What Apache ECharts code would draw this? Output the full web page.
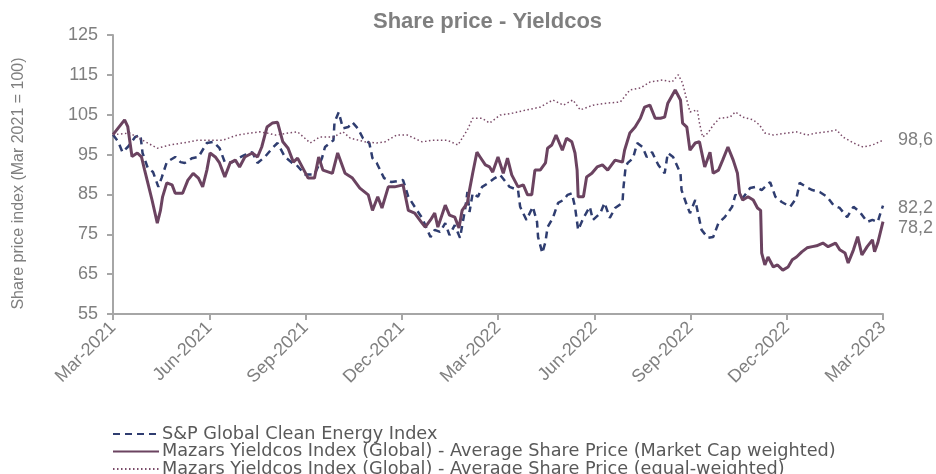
<!DOCTYPE html>
<html>
<head>
<meta charset="utf-8">
<script src="https://cdn.jsdelivr.net/npm/echarts@6/dist/echarts.min.js"></script>
<style>
  html, body { margin: 0; padding: 0; background: #fff; }
  #chart { width: 936px; height: 474px; }
</style>
</head>
<body>
<div id="chart"></div>
<script>
// quarter labels on the x axis (one tick every 91.25 days from 1 Mar 2021)
var tickLabels = ['Mar-2021', 'Jun-2021', 'Sep-2021', 'Dec-2021', 'Mar-2022', 'Jun-2022', 'Sep-2022', 'Dec-2022', 'Mar-2023'];

var seriesNames = [
    'S&P Global Clean Energy Index',
    'Mazars Yieldcos Index (Global) - Average Share Price (Market Cap weighted)',
    'Mazars Yieldcos Index (Global) - Average Share Price (equal-weighted)'
];

// S&P Global Clean Energy Index : day since 1 Mar 2021 / index value
var spDays = [0, 5, 9, 14, 21, 26, 28, 33, 38, 43, 46, 51, 59, 64, 68, 75, 81, 89, 95, 101, 106, 113, 119, 125, 132, 137, 144, 151, 156, 163, 170, 174, 182, 191, 198, 201, 209, 210, 214, 218, 223, 227, 232, 237, 243, 246, 250, 257, 264, 275, 280, 286, 293, 301, 305, 310, 315, 319, 324, 329, 334, 336, 338, 341, 346, 350, 356, 362, 367, 376, 384, 386, 392, 398, 402, 403, 407, 410, 412, 417, 422, 427, 431, 435, 438, 441, 446, 452, 455, 462, 466, 471, 476, 483, 484, 486, 488, 493, 497, 502, 506, 511, 517, 523, 526, 531, 538, 539, 544, 547, 552, 558, 564, 569, 574, 580, 587, 590, 597, 604, 609, 615, 623, 628, 634, 642, 648, 651, 659, 663, 670, 677, 683, 689, 696, 702, 708, 715, 720, 725, 727, 730];
var spVals = [100, 98.2, 95.6, 96.9, 99.4, 99.9, 95.4, 91.6, 90.6, 86.9, 89.1, 93.1, 94.4, 93.1, 92.9, 94.1, 94.4, 97.9, 98.2, 96.6, 93.1, 93.1, 94.1, 94.9, 95.6, 92.9, 94.4, 96.6, 97.9, 94.4, 92.9, 92.4, 90, 90, 94, 96.9, 98.6, 103.1, 105.6, 101.6, 101.9, 103.1, 101.6, 99.1, 97.9, 94.1, 92.9, 89.1, 88.1, 88.6, 84.4, 81.9, 79.1, 74.3, 76.1, 75.6, 77.8, 74.8, 77.3, 74.1, 81.6, 85.6, 80.6, 85.3, 84.4, 86.9, 87.9, 89.1, 89.9, 86.9, 86.1, 81.9, 78.6, 81.9, 78.1, 74.3, 70.3, 73.1, 76.8, 79.1, 82.9, 83.6, 84.9, 85.3, 81.9, 76.1, 79.1, 81.9, 78.6, 80.3, 82.9, 79.1, 81.6, 82.9, 86.9, 91.9, 92.9, 94.1, 97.9, 96.9, 94.4, 95.6, 92.4, 90.3, 95.4, 94.4, 90.3, 86.1, 82.3, 80.3, 83.6, 76.1, 74.1, 74.3, 77.8, 79.3, 81.9, 84.9, 84.1, 86.6, 86.9, 86.1, 88.1, 84.4, 83.1, 81.9, 84.1, 87.9, 86.6, 86.1, 85.6, 84.4, 82.3, 81.6, 79.3, 81.9, 80.6, 78.1, 78.6, 78.1, 79.8, 82.2];

// Mazars Yieldcos, market cap weighted
var mcDays = [0, 11, 14, 18, 23, 27, 30, 33, 37, 42, 45, 47, 51, 56, 59, 66, 71, 76, 81, 85, 89, 92, 97, 101, 106, 111, 116, 120, 125, 132, 137, 141, 146, 151, 156, 161, 166, 171, 175, 180, 185, 191, 195, 199, 208, 213, 220, 227, 234, 242, 246, 251, 255, 261, 267, 275, 280, 286, 293, 296, 301, 305, 308, 315, 319, 324, 328, 331, 336, 338, 341, 345, 348, 353, 357, 360, 365, 370, 374, 378, 384, 389, 393, 397, 400, 405, 410, 412, 416, 420, 426, 430, 435, 438, 440, 441, 446, 449, 454, 459, 464, 469, 476, 483, 485, 490, 495, 500, 504, 509, 514, 519, 523, 526, 533, 538, 540, 544, 547, 552, 556, 561, 566, 569, 574, 578, 583, 588, 592, 594, 597, 602, 607, 611, 614, 615, 618, 621, 626, 630, 635, 640, 644, 648, 653, 658, 663, 667, 673, 678, 685, 689, 694, 697, 702, 706, 710, 715, 720, 722, 725, 730];
var mcVals = [100, 103.7, 102, 94.5, 95.4, 94.4, 91.1, 87.9, 83.6, 77.8, 81, 84.4, 87.9, 87.4, 85.3, 85.3, 88.6, 90.3, 89.1, 86.9, 91.1, 95.4, 94.4, 92.9, 89.4, 92.9, 93.6, 91.9, 94.4, 95.4, 94.4, 96.9, 101.9, 102.9, 103.1, 98.2, 96.6, 93.1, 94.1, 91.6, 89.1, 89.1, 94.4, 91.1, 90.3, 95.4, 90.3, 89.1, 86.6, 84.9, 81, 84.4, 81.6, 86.9, 86.9, 87.4, 81, 80.3, 77.8, 76.8, 78.6, 80.3, 76.8, 82.3, 79.8, 79.3, 76.6, 81, 82.9, 86.1, 90.3, 95.6, 94.4, 92.4, 91.9, 90.6, 94.4, 90.3, 94.1, 89.9, 86.9, 87.4, 84.9, 84.9, 91.1, 91.1, 92.9, 96.6, 97.4, 99.9, 96.1, 99.1, 98.2, 95.4, 91.1, 84.4, 84.4, 89.4, 90.3, 91.9, 92.4, 91.1, 93.6, 93.1, 96.1, 100.4, 101.9, 104.1, 106.9, 107.4, 104.1, 104.1, 104.4, 107.9, 111.2, 108.7, 102.9, 101.9, 96.1, 97.9, 98.2, 91.9, 95.6, 90.3, 91.1, 93.6, 96.9, 93.6, 90.3, 85.3, 83.6, 84.4, 83.6, 81.6, 81, 70.3, 67.3, 69.3, 66.8, 67.3, 66, 66.8, 68.6, 69.3, 70.6, 71.6, 71.9, 72.1, 72.8, 71.9, 72.8, 71.1, 70.3, 67.8, 71.1, 74.4, 69.8, 71.9, 73.6, 70.6, 72.8, 78.2];

// Mazars Yieldcos, equal weighted
var ewDays = [0, 16, 28, 42, 54, 66, 80, 92, 104, 118, 130, 139, 146, 154, 166, 175, 187, 196, 209, 218, 225, 239, 250, 258, 269, 279, 293, 303, 317, 327, 336, 341, 350, 357, 367, 379, 392, 405, 417, 427, 436, 443, 455, 468, 481, 490, 500, 509, 521, 530, 536, 540, 544, 547, 554, 556, 559, 564, 569, 575, 585, 590, 597, 607, 613, 618, 626, 639, 648, 658, 667, 677, 686, 692, 702, 711, 720, 730];
var ewVals = [100, 100.4, 98.6, 96.6, 97.4, 97.9, 98.6, 98.6, 98.6, 99.9, 100.4, 100.7, 100.4, 99.9, 100.4, 100.7, 97.9, 99.4, 99.4, 100.7, 99.1, 98.2, 97.9, 98.2, 99.9, 99.9, 98.2, 98.6, 98.6, 97.4, 101.2, 104.1, 104.1, 102.9, 104.9, 105.4, 106.2, 106.9, 108.7, 107.4, 108.7, 106.2, 107.4, 107.9, 108.2, 111.2, 111.7, 113.2, 113.7, 113.2, 115, 112.9, 108.7, 105.7, 106.2, 102.9, 99.4, 100.4, 102.4, 104.1, 104.4, 105.7, 104.4, 103.7, 102.4, 100.4, 99.9, 100.4, 100.7, 99.9, 100.4, 100.7, 101.2, 99.4, 97.9, 96.9, 97.4, 98.6];

function pairs(days, vals) {
    return days.map(function (d, i) { return [d, vals[i]]; });
}

var grey = '#7f7f7f';
var endLabel = function (dy) {
    return {
        show: true,
        distance: 15,
        offset: [0, dy],
        color: grey,
        fontSize: 18,
        fontFamily: 'Liberation Sans',
        formatter: function (p) { return p.value[1].toFixed(1).replace('.', ','); }
    };
};

var chart = echarts.init(document.getElementById('chart'));
var option = {
    animation: false,
    textStyle: { fontFamily: 'Liberation Sans' },
    title: {
        text: 'Share price - Yieldcos',
        left: 368,
        top: 6,
        textStyle: { fontSize: 22, fontWeight: 'bold', color: grey, fontFamily: 'Liberation Sans' }
    },
    grid: { left: 113, right: 53, top: 35, bottom: 160 },
    legend: {
        orient: 'vertical',
        left: 112,
        top: 425,
        height: 60,
        padding: 0,
        itemWidth: 46,
        itemHeight: 12,
        itemGap: -0.5,
        itemStyle: { opacity: 0 },
        textStyle: { fontSize: 17.7, color: '#595959', fontFamily: 'DejaVu Sans', padding: [0, 0, 0, -2] },
        data: seriesNames
    },
    xAxis: {
        type: 'value',
        min: 0,
        max: 730,
        interval: 91.25,
        splitLine: { show: false },
        axisLine: { lineStyle: { color: '#a6a6a6', width: 2 } },
        axisTick: { show: true, length: 6, lineStyle: { color: '#a6a6a6', width: 2 } },
        axisLabel: {
            rotate: 45,
            margin: 11,
            color: grey,
            fontSize: 18,
            formatter: function (v) { return tickLabels[Math.round(v / 91.25)]; }
        }
    },
    yAxis: {
        type: 'value',
        min: 55,
        max: 125,
        interval: 10,
        name: 'Share price index (Mar 2021 = 100)',
        nameLocation: 'middle',
        nameGap: 86,
        nameTextStyle: { fontSize: 16, color: grey, fontFamily: 'Liberation Sans', padding: [0, 18, 0, 0] },
        splitLine: { show: false },
        axisLine: { show: true, lineStyle: { color: '#a6a6a6', width: 2 } },
        axisTick: { show: true, length: 6, lineStyle: { color: '#a6a6a6', width: 2 } },
        axisLabel: { color: grey, fontSize: 18, margin: 15 }
    },
    series: [
        {
            name: seriesNames[0],
            type: 'line',
            showSymbol: false,
            data: pairs(spDays, spVals),
            lineStyle: { color: '#2f3d70', width: 2.5, type: [7, 5] },
            itemStyle: { color: '#2f3d70' },
            endLabel: endLabel(2)
        },
        {
            name: seriesNames[1],
            type: 'line',
            showSymbol: false,
            data: pairs(mcDays, mcVals),
            lineStyle: { color: '#6b4360', width: 3 },
            itemStyle: { color: '#6b4360' },
            endLabel: endLabel(6)
        },
        {
            name: seriesNames[2],
            type: 'line',
            showSymbol: false,
            data: pairs(ewDays, ewVals),
            lineStyle: { color: '#7a4a68', width: 1.5, type: [1.5, 2.5] },
            itemStyle: { color: '#7a4a68' },
            endLabel: endLabel(0)
        }
    ]
};
chart.setOption(option);
</script>
</body>
</html>
